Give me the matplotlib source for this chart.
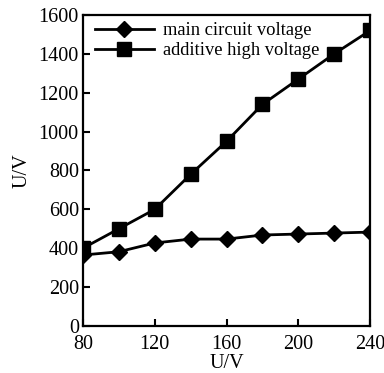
import matplotlib
matplotlib.use("Agg")
import matplotlib.pyplot as plt

x = [80, 100, 120, 140, 160, 180, 200, 220, 240]
main_v = [365, 382, 427, 447, 447, 468, 473, 478, 483]
add_v = [400, 500, 600, 780, 950, 1140, 1270, 1400, 1520]
xticks = [80, 120, 160, 200, 240]
yticks = [0, 200, 400, 600, 800, 1000, 1200, 1400, 1600]

plt.rcParams['font.family'] = ['Liberation Serif', 'DejaVu Serif']
fig = plt.figure(figsize=(3.84, 3.73), dpi=100)
ax = fig.add_axes([0.216, 0.126, 0.748, 0.834])
ax.plot(x, main_v, color='black', lw=2.0, marker='D', ms=8.5, label='main circuit voltage')
ax.plot(x, add_v, color='black', lw=2.0, marker='s', ms=10, label='additive high voltage')
ax.set_xlim(80, 240)
ax.set_ylim(0, 1600)
ax.set_xticks(xticks)
ax.set_yticks(yticks)
ax.tick_params(direction='in', length=5, width=1.5, labelsize=14.5, top=False, right=False)
ax.tick_params(axis='x', pad=6.5)
ax.tick_params(axis='y', pad=3)
for s in ax.spines.values():
    s.set_linewidth(1.6)
ax.set_xlabel('U/V', fontsize=14.5, labelpad=0)
ax.set_ylabel('U/V', fontsize=14.5, labelpad=5)
ax.legend(loc='upper left', frameon=False, fontsize=13.3, handlelength=3.2,
          borderaxespad=0.1, labelspacing=0.15, handletextpad=0.5, borderpad=0.3,
          bbox_to_anchor=(0.015, 1.0))
fig.savefig('out.png', dpi=100)
